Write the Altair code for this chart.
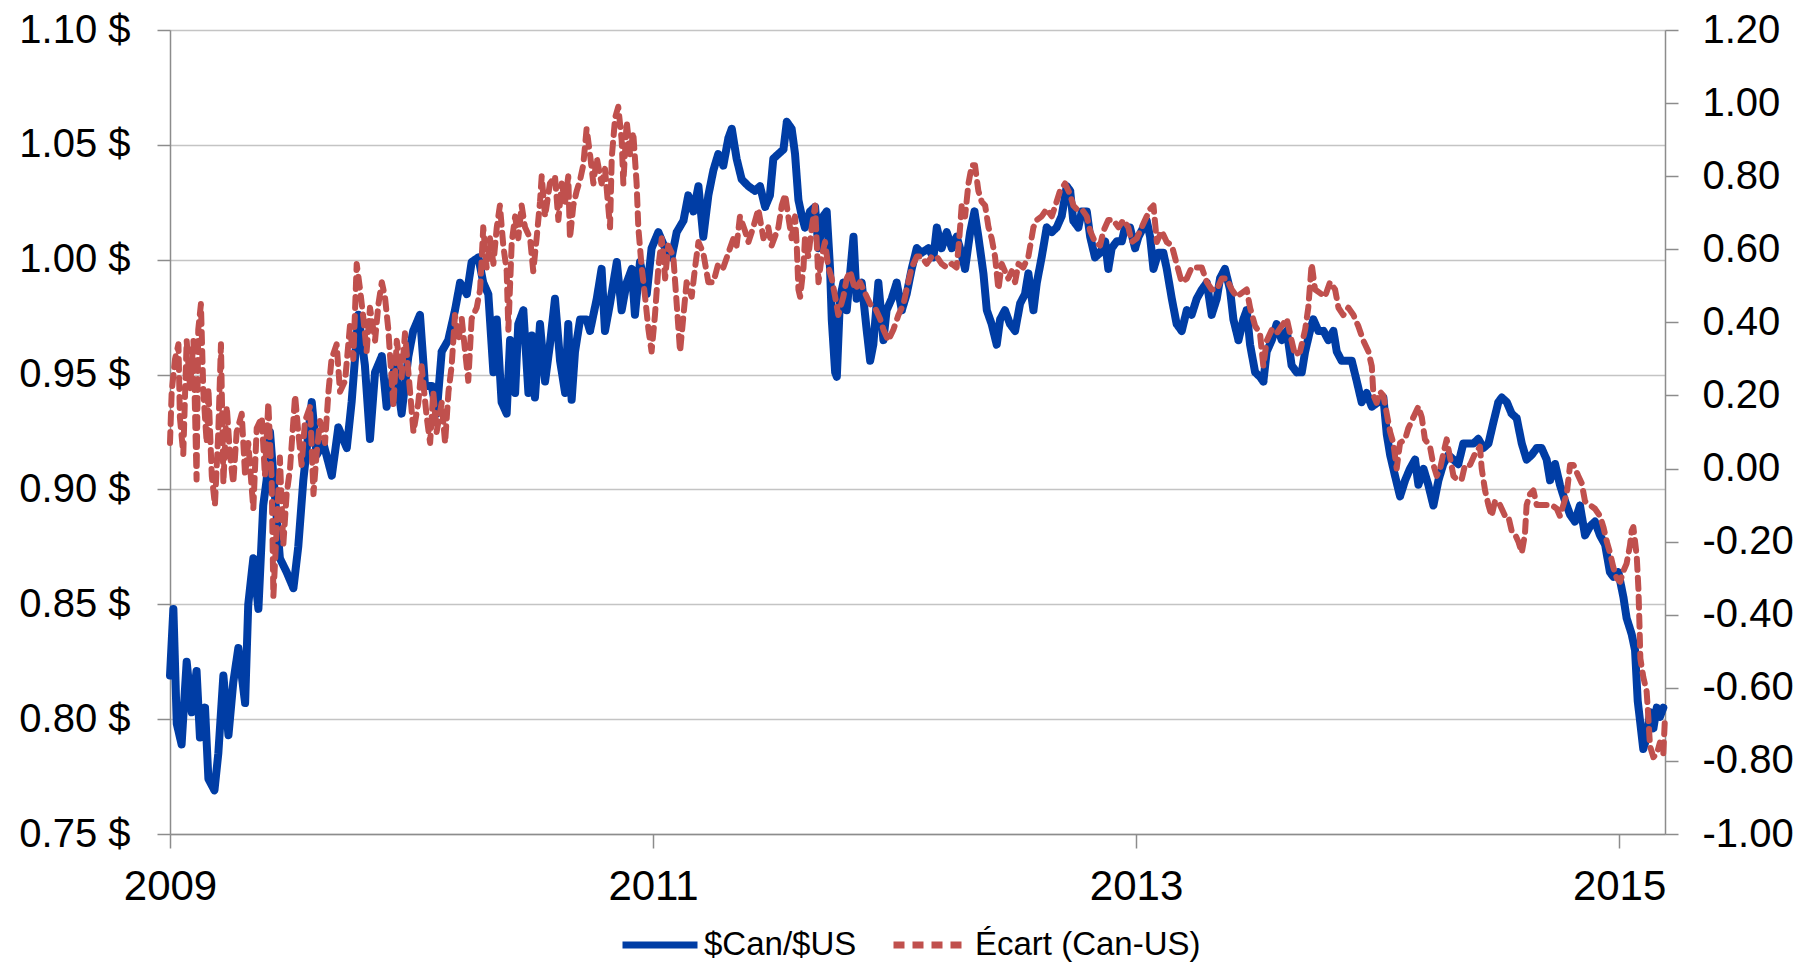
import altair as alt
import pandas as pd

# ---- Taux de change $Can/$US (axe de gauche) ----
cad_t = [
    2009.000, 2009.014, 2009.028, 2009.048, 2009.069, 2009.090, 2009.110, 2009.124, 2009.145, 2009.159,
    2009.184, 2009.200, 2009.221, 2009.242, 2009.262, 2009.283, 2009.311, 2009.324, 2009.345, 2009.366,
    2009.386, 2009.400, 2009.414, 2009.428, 2009.455, 2009.483, 2009.511, 2009.531, 2009.552, 2009.587,
    2009.607, 2009.635, 2009.670, 2009.697, 2009.732, 2009.752, 2009.780, 2009.807, 2009.828, 2009.849,
    2009.877, 2009.897, 2009.932, 2009.959, 2009.987, 2010.007, 2010.035, 2010.056, 2010.084, 2010.104,
    2010.125, 2010.152, 2010.180, 2010.201, 2010.229, 2010.249,
    2010.277, 2010.297, 2010.318, 2010.339, 2010.353, 2010.373, 2010.394, 2010.408, 2010.429, 2010.442,
    2010.463, 2010.484, 2010.498, 2010.511, 2010.532, 2010.553, 2010.573, 2010.594, 2010.615, 2010.636,
    2010.649, 2010.663, 2010.677, 2010.698, 2010.725, 2010.739, 2010.767, 2010.787, 2010.801, 2010.822,
    2010.850, 2010.870, 2010.891, 2010.912, 2010.925, 2010.946, 2010.974, 2010.994, 2011.022, 2011.050,
    2011.077, 2011.098, 2011.126, 2011.146, 2011.167, 2011.188, 2011.208, 2011.229, 2011.250, 2011.270,
    2011.291, 2011.312, 2011.326, 2011.346, 2011.367, 2011.395, 2011.422, 2011.443, 2011.464, 2011.484,
    2011.498,
    2011.540, 2011.554, 2011.574, 2011.588, 2011.602, 2011.616, 2011.629, 2011.650, 2011.671, 2011.685,
    2011.705, 2011.719, 2011.733, 2011.740, 2011.754, 2011.761, 2011.774, 2011.788, 2011.802, 2011.830,
    2011.843, 2011.864, 2011.885, 2011.899, 2011.912, 2011.933, 2011.954, 2011.967, 2011.988, 2012.009,
    2012.030, 2012.050, 2012.071, 2012.092, 2012.112, 2012.140, 2012.161, 2012.175, 2012.195, 2012.216,
    2012.237, 2012.257, 2012.271, 2012.292, 2012.313, 2012.331, 2012.347, 2012.368, 2012.382, 2012.402,
    2012.423, 2012.437, 2012.457, 2012.478, 2012.499, 2012.520, 2012.540, 2012.554, 2012.575, 2012.589,
    2012.609, 2012.630, 2012.651, 2012.671, 2012.692, 2012.713, 2012.727, 2012.740,
    2012.761, 2012.775, 2012.796, 2012.810, 2012.830, 2012.851, 2012.872, 2012.885, 2012.899, 2012.920,
    2012.941, 2012.954, 2012.975, 2012.996, 2013.010, 2013.030, 2013.044, 2013.058, 2013.072, 2013.092,
    2013.113, 2013.127, 2013.148, 2013.168, 2013.189, 2013.210, 2013.230, 2013.251, 2013.272, 2013.293,
    2013.313, 2013.334, 2013.348, 2013.368, 2013.389, 2013.403, 2013.424, 2013.444, 2013.458, 2013.472,
    2013.493, 2013.513, 2013.527, 2013.541, 2013.562, 2013.582, 2013.603, 2013.624, 2013.644, 2013.665,
    2013.686, 2013.700, 2013.720, 2013.734, 2013.755, 2013.776, 2013.796, 2013.817, 2013.831, 2013.851,
    2013.872, 2013.893, 2013.914, 2013.934, 2013.955, 2013.976,
    2014.003, 2014.024, 2014.038, 2014.052, 2014.072, 2014.093, 2014.114, 2014.134, 2014.155, 2014.169,
    2014.190, 2014.210, 2014.231, 2014.252, 2014.272, 2014.293, 2014.314, 2014.334, 2014.355, 2014.376,
    2014.397, 2014.417, 2014.438, 2014.459, 2014.479, 2014.500, 2014.514, 2014.535, 2014.555, 2014.576,
    2014.597, 2014.617, 2014.638, 2014.659, 2014.679, 2014.700, 2014.714, 2014.735, 2014.755, 2014.776,
    2014.797, 2014.817, 2014.838, 2014.859, 2014.880, 2014.900, 2014.921, 2014.942, 2014.962, 2014.976,
    2014.997, 2015.018, 2015.031, 2015.052, 2015.066, 2015.077, 2015.087, 2015.100, 2015.114, 2015.128,
    2015.142, 2015.156, 2015.169, 2015.183,
]
cad_v = [
    0.819, 0.848, 0.798, 0.789, 0.825, 0.803, 0.821, 0.792, 0.805, 0.774,
    0.769, 0.785, 0.819, 0.793, 0.816, 0.831, 0.807, 0.850, 0.870, 0.848,
    0.893, 0.904, 0.925, 0.906, 0.870, 0.864, 0.857, 0.875, 0.904, 0.938,
    0.915, 0.920, 0.906, 0.927, 0.918, 0.938, 0.976, 0.954, 0.922, 0.951,
    0.958, 0.936, 0.954, 0.933, 0.958, 0.969, 0.976, 0.945, 0.945, 0.933,
    0.960, 0.965, 0.978, 0.990, 0.985, 0.999,
    1.001, 0.990, 0.985, 0.951, 0.974, 0.938, 0.933, 0.965, 0.942, 0.972,
    0.978, 0.942, 0.967, 0.940, 0.972, 0.947, 0.963, 0.983, 0.956, 0.942,
    0.972, 0.939, 0.960, 0.974, 0.974, 0.969, 0.983, 0.996, 0.969, 0.981,
    0.999, 0.978, 0.990, 0.996, 0.976, 0.999, 0.985, 1.005, 1.012, 1.005,
    1.001, 1.012, 1.017, 1.028, 1.021, 1.032, 1.010, 1.028, 1.039, 1.046,
    1.041, 1.053, 1.057, 1.044, 1.035, 1.032, 1.030, 1.032, 1.023, 1.028,
    1.044,
    1.048, 1.060, 1.057, 1.046, 1.026, 1.019, 1.014, 1.021, 1.023, 1.005,
    1.019, 1.021, 0.996, 0.974, 0.951, 0.949, 0.983, 0.990, 0.978, 1.010,
    0.983, 0.990, 0.969, 0.956, 0.963, 0.990, 0.965, 0.978, 0.983, 0.990,
    0.978, 0.985, 0.996, 1.005, 1.003, 1.005, 1.001, 1.014, 1.005, 1.012,
    1.005, 1.010, 1.005, 0.996, 1.012, 1.021, 1.010, 0.994, 0.978, 0.972,
    0.963, 0.974, 0.978, 0.972, 0.969, 0.981, 0.985, 0.994, 0.978, 0.990,
    1.001, 1.014, 1.012, 1.014, 1.019, 1.032, 1.030, 1.017,
    1.014, 1.021, 1.021, 1.010, 1.001, 1.003, 1.008, 0.996, 1.005, 1.008,
    1.008, 1.014, 1.014, 1.005, 1.010, 1.014, 1.017, 1.010, 0.996, 1.003,
    1.003, 0.996, 0.983, 0.972, 0.969, 0.978, 0.976, 0.983, 0.987, 0.990,
    0.976, 0.983, 0.992, 0.996, 0.987, 0.974, 0.965, 0.974, 0.978, 0.963,
    0.951, 0.949, 0.947, 0.960, 0.965, 0.972, 0.965, 0.969, 0.954, 0.951,
    0.951, 0.960, 0.969, 0.974, 0.969, 0.969, 0.965, 0.969, 0.960, 0.956,
    0.956, 0.956, 0.947, 0.938, 0.942, 0.936,
    0.938, 0.940, 0.924, 0.915, 0.906, 0.897, 0.904, 0.909, 0.913, 0.902,
    0.909, 0.902, 0.893, 0.904, 0.911, 0.915, 0.913, 0.911, 0.920, 0.920,
    0.920, 0.922, 0.918, 0.920, 0.929, 0.938, 0.940, 0.938, 0.933, 0.931,
    0.920, 0.913, 0.915, 0.918, 0.918, 0.913, 0.904, 0.911, 0.902, 0.895,
    0.889, 0.886, 0.893, 0.880, 0.884, 0.886, 0.880, 0.876, 0.864, 0.862,
    0.864, 0.853, 0.844, 0.837, 0.830, 0.808, 0.799, 0.787, 0.792, 0.803,
    0.796, 0.805, 0.801, 0.805,
]

# ---- Écart de taux Can-US (axe de droite) ----
spr_t = [
    2009.000, 2009.007, 2009.021, 2009.035, 2009.041, 2009.055, 2009.069, 2009.083, 2009.097, 2009.110,
    2009.117, 2009.128, 2009.138, 2009.152, 2009.159, 2009.173, 2009.186, 2009.200, 2009.211, 2009.221,
    2009.235, 2009.248, 2009.262, 2009.276, 2009.297, 2009.311, 2009.324, 2009.345, 2009.359, 2009.380,
    2009.393, 2009.407, 2009.421, 2009.428, 2009.442, 2009.455, 2009.469, 2009.483, 2009.497, 2009.518,
    2009.531, 2009.545, 2009.559, 2009.580, 2009.594, 2009.607, 2009.621, 2009.642, 2009.656, 2009.669,
    2009.690, 2009.704, 2009.725, 2009.745, 2009.759, 2009.773, 2009.787, 2009.801, 2009.814, 2009.828,
    2009.849, 2009.863, 2009.877, 2009.890, 2009.904, 2009.925, 2009.939, 2009.959, 2009.973, 2009.994,
    2010.008, 2010.028, 2010.042, 2010.063, 2010.077, 2010.090, 2010.104, 2010.125, 2010.139, 2010.153,
    2010.166, 2010.180, 2010.194, 2010.208, 2010.222, 2010.235, 2010.249,
    2010.270, 2010.284, 2010.297, 2010.311, 2010.325, 2010.339, 2010.353, 2010.366, 2010.380, 2010.394,
    2010.401, 2010.415, 2010.429, 2010.442, 2010.456, 2010.470, 2010.491, 2010.504, 2010.518, 2010.532,
    2010.539, 2010.553, 2010.573, 2010.594, 2010.608, 2010.622, 2010.636, 2010.649, 2010.656, 2010.670,
    2010.684, 2010.698, 2010.711, 2010.725, 2010.739, 2010.753, 2010.767, 2010.787, 2010.801, 2010.822,
    2010.829, 2010.843, 2010.856, 2010.870, 2010.877, 2010.891, 2010.905, 2010.918, 2010.932, 2010.939,
    2010.953, 2010.967, 2010.981, 2010.994, 2011.008, 2011.022, 2011.036, 2011.050, 2011.063, 2011.084,
    2011.098, 2011.112, 2011.126, 2011.139, 2011.160, 2011.174, 2011.188, 2011.208, 2011.229, 2011.250,
    2011.270, 2011.291, 2011.312, 2011.333, 2011.346, 2011.360, 2011.381, 2011.395, 2011.415, 2011.436,
    2011.457, 2011.477, 2011.491,
    2011.519, 2011.533, 2011.547, 2011.560, 2011.574, 2011.588, 2011.595, 2011.602, 2011.609, 2011.623,
    2011.629, 2011.643, 2011.657, 2011.671, 2011.685, 2011.698, 2011.712, 2011.726, 2011.740, 2011.754,
    2011.767, 2011.788, 2011.802, 2011.816, 2011.836, 2011.857, 2011.878, 2011.899, 2011.919, 2011.940,
    2011.954, 2011.974, 2011.995, 2012.016, 2012.037, 2012.050, 2012.071, 2012.092, 2012.112, 2012.133,
    2012.154, 2012.175, 2012.195, 2012.216, 2012.237, 2012.257, 2012.268, 2012.278, 2012.292, 2012.306,
    2012.320, 2012.333, 2012.347, 2012.361, 2012.375, 2012.389, 2012.402, 2012.416, 2012.430, 2012.444,
    2012.457, 2012.471, 2012.485, 2012.499, 2012.513, 2012.533, 2012.554, 2012.575, 2012.589, 2012.609,
    2012.630, 2012.651, 2012.671, 2012.685, 2012.706, 2012.727, 2012.740,
    2012.754, 2012.775, 2012.796, 2012.810, 2012.830, 2012.851, 2012.865, 2012.885, 2012.906, 2012.927,
    2012.948, 2012.968, 2012.982, 2013.003, 2013.023, 2013.044, 2013.058, 2013.072, 2013.086, 2013.106,
    2013.127, 2013.148, 2013.168, 2013.189, 2013.210, 2013.230, 2013.251, 2013.272, 2013.293, 2013.313,
    2013.334, 2013.355, 2013.375, 2013.396, 2013.417, 2013.437, 2013.458, 2013.472, 2013.493, 2013.513,
    2013.527, 2013.541, 2013.562, 2013.582, 2013.603, 2013.624, 2013.644, 2013.658, 2013.679, 2013.700,
    2013.713, 2013.727, 2013.741, 2013.762, 2013.782, 2013.803, 2013.824, 2013.838, 2013.858, 2013.879,
    2013.900, 2013.920, 2013.941, 2013.962, 2013.976, 2013.983,
    2013.996, 2014.010, 2014.024, 2014.038, 2014.052, 2014.065, 2014.079, 2014.093, 2014.114, 2014.127,
    2014.141, 2014.155, 2014.169, 2014.183, 2014.196, 2014.217, 2014.231, 2014.245, 2014.259, 2014.272,
    2014.286, 2014.300, 2014.314, 2014.328, 2014.348, 2014.362, 2014.383, 2014.403, 2014.424, 2014.431,
    2014.445, 2014.459, 2014.472, 2014.486, 2014.500, 2014.514, 2014.528, 2014.541, 2014.555, 2014.569,
    2014.583, 2014.597, 2014.610, 2014.617, 2014.631, 2014.645, 2014.659, 2014.679, 2014.700, 2014.721,
    2014.742, 2014.755, 2014.769, 2014.783, 2014.797, 2014.811, 2014.831, 2014.845, 2014.859, 2014.880,
    2014.900, 2014.921, 2014.935, 2014.949, 2014.962, 2014.976, 2014.990, 2015.004, 2015.018, 2015.031,
    2015.045, 2015.052, 2015.059, 2015.073, 2015.080, 2015.084, 2015.088, 2015.100, 2015.114, 2015.121,
    2015.128, 2015.142, 2015.156, 2015.169, 2015.183, 2015.190,
]
spr_v = [
    0.07, 0.21, 0.30, 0.34, 0.14, 0.04, 0.35, 0.22, 0.35, -0.03,
    0.38, 0.45, 0.21, 0.07, 0.22, -0.02, -0.10, 0.10, 0.34, -0.04,
    0.17, 0.04, -0.04, 0.10, 0.15, -0.02, 0.07, -0.11, 0.11, 0.14,
    -0.02, 0.18, -0.03, -0.35, -0.16, 0.03, -0.21, -0.07, 0.00, 0.20,
    0.10, 0.01, 0.13, 0.17, -0.07, 0.04, 0.13, 0.07, 0.21, 0.30,
    0.34, 0.21, 0.24, 0.39, 0.30, 0.56, 0.49, 0.41, 0.32, 0.44,
    0.35, 0.45, 0.51, 0.47, 0.38, 0.17, 0.35, 0.25, 0.37, 0.21,
    0.10, 0.18, 0.28, 0.14, 0.07, 0.21, 0.10, 0.18, 0.07, 0.21,
    0.28, 0.42, 0.35, 0.41, 0.32, 0.24, 0.41,
    0.44, 0.49, 0.66, 0.55, 0.63, 0.56, 0.66, 0.72, 0.61, 0.54,
    0.38, 0.62, 0.69, 0.63, 0.72, 0.66, 0.63, 0.54, 0.63, 0.73,
    0.80, 0.69, 0.78, 0.80, 0.68, 0.78, 0.73, 0.80, 0.63, 0.72,
    0.76, 0.79, 0.83, 0.93, 0.86, 0.78, 0.85, 0.78, 0.82, 0.66,
    0.85, 0.96, 0.99, 0.90, 0.78, 0.95, 0.86, 0.92, 0.78, 0.66,
    0.55, 0.47, 0.38, 0.32, 0.42, 0.55, 0.63, 0.52, 0.61, 0.58,
    0.45, 0.32, 0.42, 0.51, 0.47, 0.55, 0.62, 0.59, 0.51, 0.51,
    0.56, 0.55, 0.59, 0.63, 0.61, 0.69, 0.65, 0.62, 0.66, 0.71,
    0.63, 0.66, 0.61,
    0.66, 0.72, 0.75, 0.69, 0.63, 0.69, 0.61, 0.49, 0.47, 0.55,
    0.63, 0.58, 0.66, 0.72, 0.51, 0.58, 0.62, 0.55, 0.52, 0.47,
    0.42, 0.47, 0.52, 0.54, 0.49, 0.51, 0.48, 0.45, 0.44, 0.41,
    0.38, 0.35, 0.38, 0.42, 0.45, 0.49, 0.55, 0.58, 0.58, 0.56,
    0.58, 0.58, 0.56, 0.55, 0.56, 0.55, 0.63, 0.72, 0.69, 0.78,
    0.83, 0.83, 0.76, 0.73, 0.72, 0.66, 0.63, 0.58, 0.49, 0.56,
    0.54, 0.52, 0.54, 0.51, 0.56, 0.55, 0.58, 0.66, 0.68, 0.69,
    0.71, 0.69, 0.73, 0.76, 0.78, 0.75, 0.72,
    0.71, 0.71, 0.69, 0.65, 0.62, 0.61, 0.65, 0.68, 0.68, 0.66,
    0.68, 0.66, 0.62, 0.63, 0.66, 0.69, 0.71, 0.72, 0.62, 0.65,
    0.62, 0.61, 0.56, 0.51, 0.52, 0.55, 0.55, 0.55, 0.51, 0.49,
    0.49, 0.52, 0.52, 0.49, 0.47, 0.48, 0.49, 0.44, 0.39, 0.37,
    0.28, 0.35, 0.38, 0.37, 0.39, 0.41, 0.35, 0.31, 0.32, 0.38,
    0.44, 0.56, 0.49, 0.48, 0.47, 0.51, 0.49, 0.44, 0.42, 0.44,
    0.42, 0.39, 0.35, 0.32, 0.28, 0.20,
    0.18, 0.21, 0.20, 0.15, 0.10, 0.07, 0.00, 0.07, 0.08, 0.11,
    0.13, 0.15, 0.17, 0.14, 0.08, 0.06, 0.01, -0.02, 0.00, 0.04,
    0.08, 0.03, -0.02, -0.03, -0.03, 0.01, 0.01, 0.04, 0.06, 0.00,
    -0.06, -0.10, -0.13, -0.09, -0.09, -0.11, -0.13, -0.13, -0.17, -0.18,
    -0.20, -0.23, -0.18, -0.10, -0.07, -0.06, -0.10, -0.10, -0.10, -0.10,
    -0.11, -0.13, -0.10, -0.07, 0.01, 0.01, -0.02, -0.04, -0.09, -0.10,
    -0.11, -0.13, -0.16, -0.20, -0.23, -0.27, -0.30, -0.31, -0.28, -0.26,
    -0.21, -0.17, -0.16, -0.24, -0.33, -0.42, -0.52, -0.57, -0.61, -0.68,
    -0.76, -0.79, -0.78, -0.75, -0.78, -0.68,
]

left_ticks = [0.75, 0.80, 0.85, 0.90, 0.95, 1.00, 1.05, 1.10]
right_ticks = [-1.0, -0.8, -0.6, -0.4, -0.2, 0.0, 0.2, 0.4, 0.6, 0.8, 1.0, 1.2]
year_ticks = [2009, 2011, 2013, 2015]

S1 = "$Can/$US"
S2 = "Écart (Can-US)"

df1 = pd.DataFrame({"t": cad_t, "v": cad_v, "s": S1})
df2 = pd.DataFrame({"t": spr_t, "v": spr_v, "s": S2})

FONT = "Liberation Sans"
AX_GRAY = "#8C8C8C"
GRID_GRAY = "#C4C4C4"

color_scale = alt.Scale(domain=[S1, S2], range=["#003DA5", "#C0504D"])
dash_scale = alt.Scale(domain=[S1, S2], range=[[1, 0], [11, 8]])

legend = alt.Legend(
    title=None, orient="none", legendX=449, legendY=874, direction="horizontal",
    symbolType="stroke", symbolSize=5625, symbolStrokeWidth=7,
    labelFontSize=33, labelFont=FONT, labelColor="black", labelOffset=3,
    labelLimit=0, columnPadding=22, padding=0, symbolOpacity=1,
)

x_enc = alt.X(
    "t:Q",
    scale=alt.Scale(domain=[2009, 2015.19], nice=False, zero=False),
    axis=alt.Axis(
        values=year_ticks, format="d", title=None, grid=False,
        tickSize=14, tickColor=AX_GRAY, tickWidth=1.5,
        domainColor=AX_GRAY, domainWidth=1.5,
        labelPadding=18, labelFontSize=42, labelFont=FONT, labelColor="black",
        labelFlush=False, labelOverlap=False,
    ),
)

blue = alt.Chart(df1).mark_line(
    strokeWidth=8, strokeJoin="round", strokeCap="round"
).encode(
    x=x_enc,
    y=alt.Y(
        "v:Q",
        scale=alt.Scale(domain=[0.75, 1.10], nice=False, zero=False),
        axis=alt.Axis(
            orient="left", values=left_ticks, title=None,
            labelExpr="format(datum.value, '.2f') + ' $'",
            grid=True, gridColor=GRID_GRAY, gridWidth=1.5,
            domainColor=AX_GRAY, domainWidth=1.5,
            tickColor=AX_GRAY, tickWidth=1.5, tickSize=13,
            labelPadding=27, labelFontSize=40, labelFont=FONT, labelColor="black",
            labelFlush=False, labelOverlap=False,
        ),
    ),
    color=alt.Color("s:N", scale=color_scale, legend=legend),
    strokeDash=alt.StrokeDash("s:N", scale=dash_scale, legend=legend),
    order=alt.Order("t:Q"),
)

red = alt.Chart(df2).mark_line(
    strokeWidth=6, strokeJoin="round", strokeCap="round"
).encode(
    x=x_enc,
    y=alt.Y(
        "v:Q",
        scale=alt.Scale(domain=[-1.0, 1.2], nice=False, zero=False),
        axis=alt.Axis(
            orient="right", values=right_ticks, title=None,
            labelExpr="(datum.value < 0 ? '-' : '') + format(abs(datum.value), '.2f')",
            grid=False,
            domainColor=AX_GRAY, domainWidth=1.5,
            tickColor=AX_GRAY, tickWidth=1.5, tickSize=13,
            labelPadding=24, labelFontSize=40, labelFont=FONT, labelColor="black",
            labelFlush=False, labelOverlap=False,
        ),
    ),
    color=alt.Color("s:N", scale=color_scale, legend=legend),
    strokeDash=alt.StrokeDash("s:N", scale=dash_scale, legend=legend),
    order=alt.Order("t:Q"),
)

chart = alt.layer(blue, red).resolve_scale(y="independent").properties(
    width=1495, height=804,
    autosize=alt.AutoSizeParams(type="none"),
    padding={"left": 162, "top": 22, "right": 131, "bottom": 128},
    background="white",
).configure_view(stroke=None).configure(font=FONT)

chart.save("out.html", embed_options={"renderer": "svg", "actions": False})
